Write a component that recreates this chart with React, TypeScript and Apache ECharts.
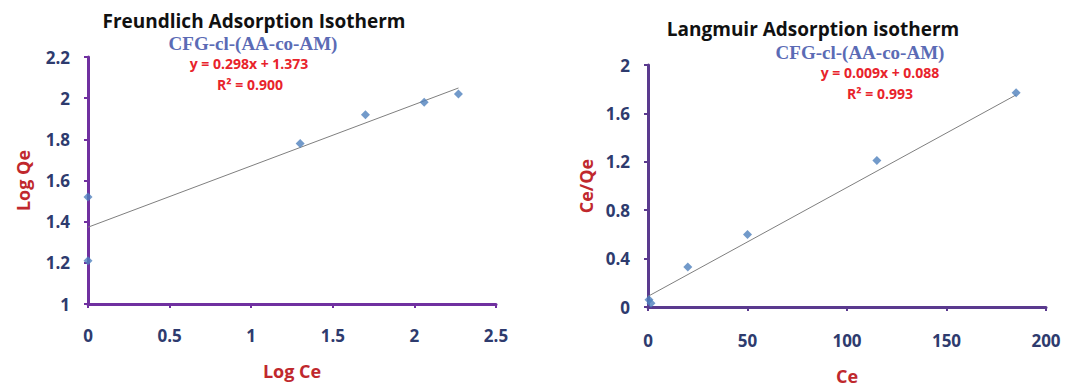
import React, { useEffect, useRef } from "react";
import * as echarts from "echarts";

// Freundlich data
const freundlichLogCe = [0, 0, 1.3, 1.7, 2.06, 2.27];
const freundlichLogQe = [1.52, 1.21, 1.78, 1.92, 1.98, 2.02];
const freundlichSlope = 0.298;
const freundlichIntercept = 1.373;
const freundlichFitRange = [0, 2.27];

// Langmuir data
const langmuirCe = [0.5, 1.5, 20, 50, 115, 185];
const langmuirCeQe = [0.06, 0.03, 0.33, 0.6, 1.21, 1.77];
const langmuirSlope = 0.009;
const langmuirIntercept = 0.088;
const langmuirFitRange = [0, 185];

const titles = ["Freundlich Adsorption Isotherm", "Langmuir Adsorption isotherm"];
const subtitle = "CFG-cl-(AA-co-AM)";
const equations = ["y = 0.298x + 1.373", "y = 0.009x + 0.088"];
const r2Labels = ["R² = 0.900", "R² = 0.993"];

const SANS = "'Open Sans', Lato, sans-serif";
const SERIF = "'Liberation Serif', 'DejaVu Serif', serif";
const AXIS_LEFT = "#7030A0";
const AXIS_RIGHT = "#5A3A8E";
const TICK_COLOR = "#2E3B6E";
const RED_TITLE = "#C0282D";
const RED_EQ = "#E8232B";
const BLUE_SUB = "#5B6BB5";
const MARKER = "#4F81BD";

function fit(slope: number, intercept: number, range: number[]) {
  return range.map((x) => [x, slope * x + intercept]);
}

export default function App() {
  const ref = useRef<HTMLDivElement>(null);
  useEffect(() => {
    if (!ref.current) return;
    const chart = echarts.init(ref.current, null, { renderer: "svg" });
    const axisCommon = (color: string) => ({
      axisLine: { show: true, onZero: false, lineStyle: { color, width: 3 } },
      axisTick: { show: true, length: 4, lineStyle: { color, width: 2 } },
      splitLine: { show: false },
      axisLabel: { color: TICK_COLOR, fontFamily: SANS, fontWeight: "bold", fontSize: 17 },
      nameTextStyle: { color: RED_TITLE, fontFamily: SANS, fontWeight: "bold", fontSize: 18 },
      nameLocation: "middle" as const,
    });
    const subStyle = (text: string) => ({ text, fill: BLUE_SUB, font: `bold 19px ${SERIF}`, lineHeight: 17, align: "center", verticalAlign: "middle" });
    const eqStyle = (text: string) => ({ text, fill: RED_EQ, font: `bold 14px ${SANS}`, lineHeight: 14, align: "center", verticalAlign: "middle" });
    chart.setOption({
      animation: false,
      backgroundColor: "#ffffff",
      title: [
        { text: titles[0], left: 254, top: 11, textAlign: "center", padding: 0, textStyle: { fontFamily: SANS, fontWeight: "bold", fontSize: 19, lineHeight: 20, color: "#111" } },
        { text: titles[1], left: 813, top: 19, textAlign: "center", padding: 0, textStyle: { fontFamily: SANS, fontWeight: "bold", fontSize: 19, lineHeight: 20, color: "#111" } },
      ],
      graphic: [
        { type: "text", x: 253, y: 43, style: subStyle(subtitle) },
        { type: "text", x: 249, y: 63, style: eqStyle(equations[0]) },
        { type: "text", x: 250, y: 84, style: eqStyle(r2Labels[0]) },
        { type: "text", x: 860, y: 52, style: subStyle(subtitle) },
        { type: "text", x: 880, y: 72, style: eqStyle(equations[1]) },
        { type: "text", x: 880, y: 93, style: eqStyle(r2Labels[1]) },
      ],
      grid: [
        { left: 88, top: 57, width: 408, height: 247 },
        { left: 648, top: 65, width: 398, height: 248 },
      ],
      xAxis: [
        { type: "value", gridIndex: 0, min: 0, max: 2.5, interval: 0.5, name: "Log Ce", nameGap: 58, ...axisCommon(AXIS_LEFT), axisLabel: { ...axisCommon(AXIS_LEFT).axisLabel, margin: 23 } },
        { type: "value", gridIndex: 1, min: 0, max: 200, interval: 50, name: "Ce", nameGap: 60, ...axisCommon(AXIS_RIGHT), axisLabel: { ...axisCommon(AXIS_RIGHT).axisLabel, margin: 25 } },
      ],
      yAxis: [
        { type: "value", gridIndex: 0, min: 1, max: 2.2, interval: 0.2, name: "Log Qe", nameGap: 56, ...axisCommon(AXIS_LEFT), axisLabel: { ...axisCommon(AXIS_LEFT).axisLabel, margin: 18 } },
        { type: "value", gridIndex: 1, min: 0, max: 2, interval: 0.4, name: "Ce/Qe", nameGap: 53, ...axisCommon(AXIS_RIGHT), axisLabel: { ...axisCommon(AXIS_RIGHT).axisLabel, margin: 18 } },
      ],
      series: [
        {
          type: "line", xAxisIndex: 0, yAxisIndex: 0, data: fit(freundlichSlope, freundlichIntercept, freundlichFitRange),
          showSymbol: false, symbol: "none", lineStyle: { color: "#7f7f7f", width: 1 }, z: 1,
        },
        {
          type: "scatter", xAxisIndex: 0, yAxisIndex: 0, symbol: "diamond", symbolSize: 9,
          data: freundlichLogCe.map((x, i) => [x, freundlichLogQe[i]]), itemStyle: { color: MARKER }, z: 3,
        },
        {
          type: "line", xAxisIndex: 1, yAxisIndex: 1, data: fit(langmuirSlope, langmuirIntercept, langmuirFitRange),
          showSymbol: false, symbol: "none", lineStyle: { color: "#7f7f7f", width: 1 }, z: 1,
        },
        {
          type: "scatter", xAxisIndex: 1, yAxisIndex: 1, symbol: "diamond", symbolSize: 9,
          data: langmuirCe.map((x, i) => [x, langmuirCeQe[i]]), itemStyle: { color: MARKER }, z: 3,
        },
      ],
    });
    return () => chart.dispose();
  }, []);
  return <div ref={ref} style={{ position: "absolute", left: 0, top: 0, width: 1072, height: 390 }} />;
}
